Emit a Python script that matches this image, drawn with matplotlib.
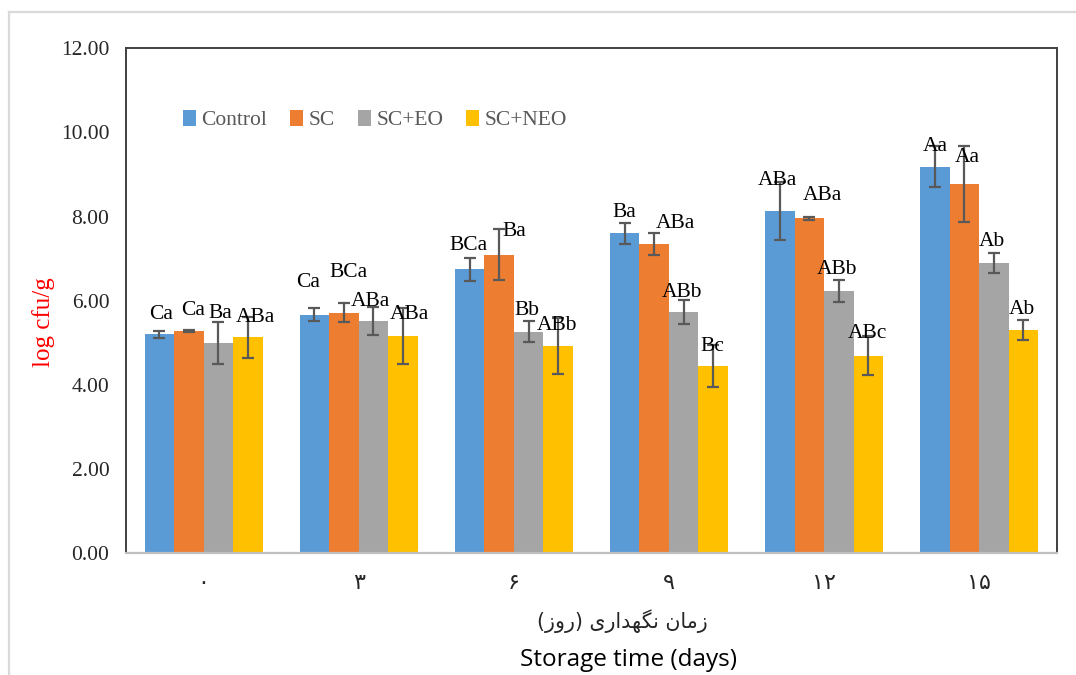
import numpy as np
import matplotlib
matplotlib.use('Agg')
import matplotlib.pyplot as plt
from matplotlib.lines import Line2D

# storage days (Persian digits) and treatments
days = ['۰', '۳', '۶', '۹', '۱۲', '۱۵']
series = ['Control', 'SC', 'SC+EO', 'SC+NEO']

control = [5.20, 5.67, 6.75, 7.60, 8.14, 9.19]
sc = [5.28, 5.72, 7.10, 7.35, 7.96, 8.77]
sc_eo = [5.00, 5.52, 5.27, 5.73, 6.23, 6.90]
sc_neo = [5.13, 5.17, 4.93, 4.45, 4.70, 5.30]

control_err = [0.08, 0.16, 0.27, 0.25, 0.69, 0.49]
sc_err = [0.02, 0.22, 0.61, 0.27, 0.04, 0.90]
sc_eo_err = [0.49, 0.34, 0.24, 0.28, 0.26, 0.23]
sc_neo_err = [0.49, 0.67, 0.66, 0.51, 0.46, 0.24]

control_letters = ['Ca', 'Ca', 'BCa', 'Ba', 'ABa', 'Aa']
sc_letters = ['Ca', 'BCa', 'Ba', 'ABa', 'ABa', 'Aa']
sc_eo_letters = ['Ba', 'ABa', 'Bb', 'ABb', 'ABb', 'Ab']
sc_neo_letters = ['ABa', 'ABa', 'ABb', 'Bc', 'ABc', 'Ab']

values = [control, sc, sc_eo, sc_neo]
errors = [control_err, sc_err, sc_eo_err, sc_neo_err]
letters = [control_letters, sc_letters, sc_eo_letters, sc_neo_letters]
colors = ['#5B9BD5', '#ED7D31', '#A5A5A5', '#FFC000']

# where each letter sits relative to the top of its bar (pixels)
label_offsets = [
    [(2, 20), (-6, 32), (-1, 24), (0, 21), (-2, 30), (0, 20)],
    [(4, 21), (5, 40), (15, 23), (21, 21), (13, 23), (3, 27)],
    [(2, 29), (-3, 20), (-2, 21), (-2, 20), (-2, 22), (-2, 21)],
    [(8, 20), (7, 21), (-1, 20), (-1, 20), (-1, 22), (-1, 21)],
]

serif = 'Liberation Serif'

fig = plt.figure(figsize=(10.76, 6.75), dpi=100)
ax = fig.add_axes([0.1171, 0.1803, 0.8650, 0.7481])

x = np.arange(len(days))
w = 0.19
for i in range(4):
    pos = x + (i - 1.5) * w
    ax.bar(pos, values[i], width=w, color=colors[i], label=series[i], zorder=1)
    ax.errorbar(pos, values[i], yerr=errors[i], fmt='none', ecolor='#595959',
                elinewidth=1.6, capsize=4.5, capthick=1.6, zorder=3)
    for j in range(len(days)):
        dx, dy = label_offsets[i][j]
        ax.annotate(letters[i][j], xy=(pos[j], values[i][j]), xytext=(dx, dy),
                    textcoords='offset pixels', ha='center', va='center',
                    fontsize=15.5, family=serif, color='black', zorder=4)

ax.set_xlim(-0.5, 5.5)
ax.set_ylim(0, 12)
ax.set_yticks(np.arange(0, 12.1, 2))
ax.set_yticklabels(['%.2f' % v for v in np.arange(0, 12.1, 2)], family=serif,
                   fontsize=15.5, color='#262626')
ax.set_xticks(x)
ax.set_xticklabels(days, family='DejaVu Sans', fontsize=16, color='#262626')
ax.tick_params(axis='y', length=0, pad=12)
ax.tick_params(axis='x', length=0, pad=14)

for side in ['left', 'top', 'right']:
    ax.spines[side].set_color('#404040')
    ax.spines[side].set_linewidth(1.4)
ax.spines['bottom'].set_color('#BFBFBF')
ax.spines['bottom'].set_linewidth(1.6)

fig.text(44 / 1076, 1 - 322 / 675, 'log cfu/g', rotation=90, ha='center',
         va='center', family=serif, fontsize=18, color='red')

leg = ax.legend(loc='center left', bbox_to_anchor=(0.0494, 0.858), ncol=4,
                frameon=False, handlelength=0.62, handleheight=0.75,
                handletextpad=0.25, columnspacing=1.05, borderpad=0,
                prop={'family': serif, 'size': 15.5})
for t in leg.get_texts():
    t.set_color('#595959')

# Persian axis title, shaped and laid out right-to-left by hand
fa_title = '(\uFEAF\uFEED\uFEAD) \uFBFC\uFEAD\uFE8D\uFEAA\uFEEC\uFB95\uFEE7 \uFEE5\uFE8E\uFEE3\uFEAF'
fig.text(622.5 / 1076, 1 - 621 / 675, fa_title, ha='center', va='center',
         family='DejaVu Sans', fontsize=14.8, color='#262626')
fig.text(628 / 1076, 1 - 660 / 675, 'Storage time (days)', ha='center',
         va='center', family='Open Sans', fontsize=17.5, color='black')

# light frame around the chart area
frame_c = '#D9D9D9'
fig.add_artist(Line2D([9 / 1076, 9 / 1076], [0, 663 / 675], color=frame_c,
                      lw=1.6, transform=fig.transFigure))
fig.add_artist(Line2D([9 / 1076, 1], [663 / 675, 663 / 675], color=frame_c,
                      lw=1.6, transform=fig.transFigure))

fig.savefig('out.png', dpi=100)
